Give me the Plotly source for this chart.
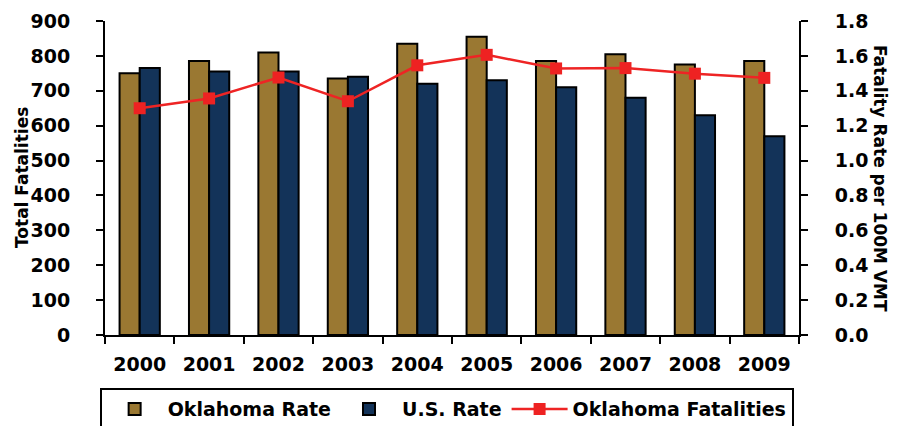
import plotly.graph_objects as go

years = ["2000", "2001", "2002", "2003", "2004", "2005", "2006", "2007", "2008", "2009"]
oklahoma_rate = [1.50, 1.57, 1.62, 1.47, 1.67, 1.71, 1.57, 1.61, 1.55, 1.57]
us_rate = [1.53, 1.51, 1.51, 1.48, 1.44, 1.46, 1.42, 1.36, 1.26, 1.14]
oklahoma_fatalities = [650, 678, 738, 670, 773, 803, 764, 765, 749, 737]

left_ticks = [0, 100, 200, 300, 400, 500, 600, 700, 800, 900]
right_ticks = [0.0, 0.2, 0.4, 0.6, 0.8, 1.0, 1.2, 1.4, 1.6, 1.8]

FONT = "DejaVu Sans"
tickfont = dict(family=FONT, size=19, color="black", weight="bold")
titlefont = dict(family=FONT, size=17, color="black", weight="bold")

fig = go.Figure()
fig.add_trace(go.Bar(
    x=years, y=oklahoma_rate, name="Oklahoma Rate", yaxis="y",
    marker=dict(color="#9A7832", line=dict(color="black", width=2)),
))
fig.add_trace(go.Bar(
    x=years, y=us_rate, name="U.S. Rate", yaxis="y",
    marker=dict(color="#133359", line=dict(color="black", width=2)),
))
fig.add_trace(go.Scatter(
    x=years, y=oklahoma_fatalities, name="Oklahoma Fatalities", yaxis="y2",
    mode="lines+markers",
    line=dict(color="#EE2424", width=2.5),
    marker=dict(symbol="square", size=12, color="#EE2222"),
))

n = len(years)
bounds = [i - 0.5 for i in range(n + 1)]

# page body has an 8px default margin; figure is sized so the plot lands where the reference has it
fig.update_layout(
    width=897, height=418,
    margin=dict(l=97, r=106, t=13, b=91, autoexpand=False),
    paper_bgcolor="white", plot_bgcolor="white",
    barmode="group", bargap=0.42, bargroupgap=0,
    showlegend=True,
    legend=dict(
        orientation="h", xref="container", x=0.489, xanchor="center",
        yref="paper", y=-0.169, yanchor="top",
        bordercolor="black", borderwidth=2, itemwidth=56,
        font=dict(family=FONT, size=19, color="black", weight="bold"),
        traceorder="normal",
    ),
    xaxis=dict(
        type="category", range=[-0.5, n - 0.5], tickson="boundaries",
        ticks="outside", ticklen=7, tickwidth=2, tickcolor="black",
        showline=True, linecolor="black", linewidth=2, automargin=False,
        tickfont=tickfont, ticklabelstandoff=11, showgrid=False,
        anchor="y",
    ),
    xaxis2=dict(
        type="linear", range=[-0.5, n - 0.5], overlaying="x",
        tickvals=bounds, ticks="inside", ticklen=7, tickwidth=2, tickcolor="black",
        showticklabels=False, showline=False, showgrid=False, zeroline=False,
        anchor="y", side="bottom", automargin=False,
    ),
    yaxis=dict(
        side="right", range=[0, 1.8], tickvals=right_ticks,
        ticktext=[f"{v:.1f}" for v in right_ticks],
        ticks="outside", ticklen=7, tickwidth=2, tickcolor="black",
        showline=True, linecolor="black", linewidth=2, automargin=False,
        tickfont=tickfont, ticklabelstandoff=23, showgrid=False, zeroline=False,
    ),
    yaxis2=dict(
        side="left", overlaying="y", range=[0, 900], tickvals=left_ticks,
        ticks="outside", ticklen=7, tickwidth=2, tickcolor="black",
        showline=True, linecolor="black", linewidth=2, automargin=False,
        tickfont=tickfont, ticklabelstandoff=22, showgrid=False, zeroline=False,
    ),
    yaxis3=dict(
        side="left", overlaying="y", range=[0, 900], tickvals=left_ticks,
        ticks="inside", ticklen=7, tickwidth=2, tickcolor="black", automargin=False,
        showticklabels=False, showline=False, showgrid=False, zeroline=False,
    ),
    yaxis4=dict(
        side="right", overlaying="y", range=[0, 1.8], tickvals=right_ticks,
        ticks="inside", ticklen=7, tickwidth=2, tickcolor="black", automargin=False,
        showticklabels=False, showline=False, showgrid=False, zeroline=False,
    ),
    annotations=[
        dict(
            text="Total Fatalities", textangle=-90,
            xref="paper", yref="paper", x=0.0, xshift=-83, y=0.5,
            xanchor="center", yanchor="middle", showarrow=False, font=titlefont,
        ),
        dict(
            text="Fatality Rate per 100M VMT", textangle=90,
            xref="paper", yref="paper", x=1.0, xshift=81, y=0.5,
            xanchor="center", yanchor="middle", showarrow=False, font=titlefont,
        ),
    ],
)

fig.write_html("out.html")
